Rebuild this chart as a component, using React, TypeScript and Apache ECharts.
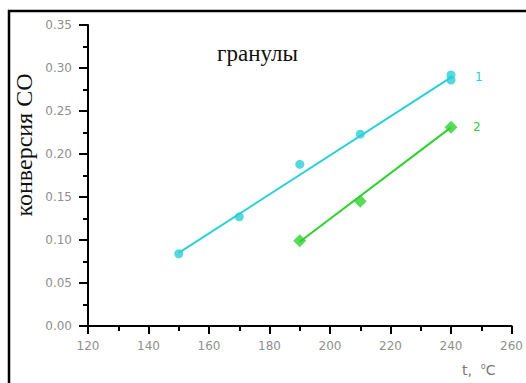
import React, { useEffect, useRef } from "react";
import * as echarts from "echarts";

const xTicks = [120, 140, 160, 180, 200, 220, 240, 260];
const series1Points: [number, number][] = [
  [150, 0.084],
  [170, 0.127],
  [190, 0.188],
  [210, 0.223],
  [240, 0.292],
  [240, 0.286],
];
const series1Fit: [number, number][] = [
  [150, 0.085],
  [240, 0.289],
];
const series2Points: [number, number][] = [
  [190, 0.099],
  [210, 0.145],
  [240, 0.231],
];
const series2Fit: [number, number][] = [
  [190, 0.098],
  [240, 0.231],
];
const seriesNames = ["1", "2"];
const chartTitle = "гранулы";
const yAxisTitle = "конверсия СО";

const CYAN = "#2ccfd6";
const GREEN = "#2fd12f";
const TICK_GREY = "#8f8f8f";

export default function App() {
  const ref = useRef<HTMLDivElement>(null);
  useEffect(() => {
    if (!ref.current) return;
    const chart = echarts.init(ref.current, null, { renderer: "svg" });
    chart.setOption({
      animation: false,
      backgroundColor: "#ffffff",
      title: {
        text: chartTitle,
        left: 212,
        top: 37,
        textStyle: {
          fontFamily: "Liberation Serif",
          fontSize: 23,
          fontWeight: "normal",
          color: "#111",
        },
      },
      grid: { left: 88, right: 14, top: 25, bottom: 57 },
      xAxis: {
        type: "value",
        min: xTicks[0],
        max: xTicks[xTicks.length - 1],
        interval: 20,
        axisLine: { show: true, onZero: false, lineStyle: { color: "#000", width: 2 } },
        axisTick: { show: true, inside: false, length: 8, lineStyle: { color: "#000", width: 2 } },
        minorTick: { show: true, splitNumber: 2, length: 5, lineStyle: { color: "#000", width: 2 } },
        splitLine: { show: false },
        axisLabel: {
          margin: 14,
          color: TICK_GREY,
          fontFamily: "DejaVu Sans",
          fontSize: 12,
        },
      },
      yAxis: {
        type: "value",
        min: 0,
        max: 0.35,
        interval: 0.05,
        axisLine: { show: true, onZero: false, lineStyle: { color: "#000", width: 2 } },
        axisTick: { show: true, inside: false, length: 9, lineStyle: { color: "#000", width: 2 } },
        minorTick: { show: true, splitNumber: 2, length: 5, lineStyle: { color: "#000", width: 2 } },
        splitLine: { show: false },
        axisLabel: {
          margin: 16,
          color: TICK_GREY,
          fontFamily: "DejaVu Sans",
          fontSize: 12,
          formatter: (v: number) => v.toFixed(2),
        },
      },
      series: [
        {
          type: "line",
          data: series1Fit,
          symbol: "none",
          lineStyle: { color: CYAN, width: 2 },
          endLabel: {
            show: true,
            formatter: seriesNames[0],
            distance: 24,
            color: CYAN,
            fontFamily: "DejaVu Sans",
            fontSize: 12,
          },
          z: 2,
        },
        {
          type: "scatter",
          data: series1Points,
          symbol: "circle",
          symbolSize: 9,
          itemStyle: { color: CYAN },
          z: 3,
        },
        {
          type: "line",
          data: series2Fit,
          symbol: "none",
          lineStyle: { color: GREEN, width: 2 },
          endLabel: {
            show: true,
            formatter: seriesNames[1],
            distance: 22,
            color: GREEN,
            fontFamily: "DejaVu Sans",
            fontSize: 12,
          },
          z: 2,
        },
        {
          type: "scatter",
          data: series2Points,
          symbol: "diamond",
          symbolSize: 13,
          itemStyle: { color: GREEN },
          z: 3,
        },
      ],
      graphic: [
        {
          type: "polyline",
          shape: { points: [[9, 383], [9, 11], [526, 11]] },
          style: { stroke: "#000", lineWidth: 2.5, fill: "none" },
          z: 10,
        },
        {
          type: "text",
          x: 24,
          y: 145,
          rotation: Math.PI / 2,
          style: {
            text: yAxisTitle,
            align: "center",
            verticalAlign: "middle",
            fontFamily: "Liberation Serif",
            fontSize: 24,
            fill: "#111",
          },
        },
        {
          type: "text",
          x: 462,
          y: 362,
          style: {
            text: "{a|t,  }{b|o}{a|C}",
            rich: {
              a: { fontFamily: "DejaVu Sans", fontSize: 14, fill: "#777", color: "#777" },
              b: {
                fontFamily: "DejaVu Sans",
                fontSize: 8,
                fill: "#777",
                color: "#777",
                verticalAlign: "top",
                padding: [0, 0, 8, 0],
              },
            },
          },
        },
      ],
    });
    return () => chart.dispose();
  }, []);
  return (
    <div
      ref={ref}
      style={{ position: "absolute", left: 0, top: 0, width: 526, height: 383 }}
    />
  );
}
